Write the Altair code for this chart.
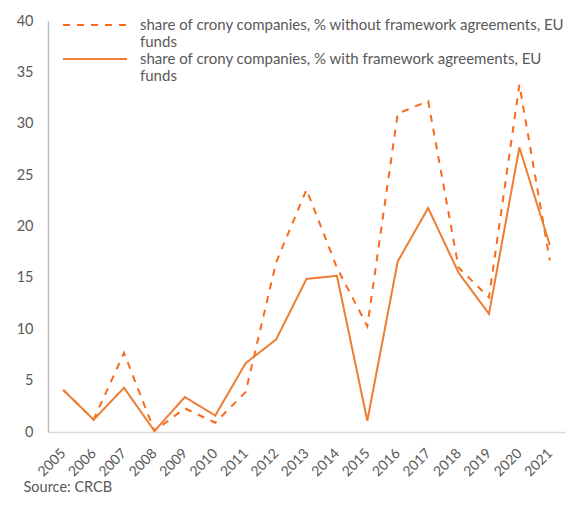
import altair as alt
import pandas as pd

years = [str(y) for y in range(2005, 2022)]
without_fa = [4.1, 1.2, 7.7, 0.1, 2.3, 0.9, 3.9, 16.5, 23.6, 16.0, 10.3, 31.0, 32.2, 16.0, 13.1, 33.8, 16.7]
with_fa = [4.1, 1.2, 4.3, 0.1, 3.4, 1.6, 6.7, 9.0, 14.9, 15.2, 1.1, 16.6, 21.8, 15.5, 11.5, 27.7, 18.2]
# "|" marks the line break of the legend labels
series_names = [
    "share of crony companies, % without framework agreements, EU|funds",
    "share of crony companies, % with framework agreements, EU|funds",
]
colors = ["#F96A1B", "#ED7D31"]
y_ticks = [0, 5, 10, 15, 20, 25, 30, 35, 40]

rows = []
for name, vals in zip(series_names, [without_fa, with_fa]):
    for yr, v in zip(years, vals):
        rows.append({"year": yr, "series": name, "value": v})
df = pd.DataFrame(rows)

FONT = "Lato"
GREY = "#595959"

leg = alt.Legend(
    title=None,
    orient="none",
    legendX=38,
    legendY=-5,
    symbolType="M-4,0H4",
    symbolSize=256,
    symbolStrokeWidth=2,
    labelLimit=600,
    labelFont=FONT,
    labelFontSize=15,
    labelColor=GREY,
    labelOffset=36,
    labelExpr="split(datum.label, '|')",
    rowPadding=0,
    padding=0,
)

lines = alt.Chart(df).mark_line(strokeWidth=2).encode(
    x=alt.X(
        "year:O",
        sort=years,
        axis=alt.Axis(
            title="Source: CRCB",
            titleAnchor="start",
            titleAlign="left",
            titleBaseline="middle",
            titleX=-25,
            titleY=55,
            titleFont=FONT,
            titleFontSize=14.5,
            titleFontWeight="normal",
            titleColor=GREY,
            labelAngle=-45,
            labelAlign="right",
            labelBaseline="middle",
            labelPadding=19,
            ticks=False,
            domainColor="#d9d9d9",
            domainWidth=1.5,
            labelFont=FONT,
            labelFontSize=14,
            labelColor=GREY,
        ),
    ),
    y=alt.Y(
        "value:Q",
        title=None,
        scale=alt.Scale(domain=[0, 40], nice=False),
        axis=alt.Axis(
            values=y_ticks,
            grid=False,
            ticks=False,
            domainColor="#bfbfbf",
            domainWidth=1.5,
            labelPadding=15,
            labelFont=FONT,
            labelFontSize=14.5,
            labelColor=GREY,
        ),
    ),
    color=alt.Color("series:N", scale=alt.Scale(domain=series_names, range=colors), legend=leg),
    strokeDash=alt.StrokeDash(
        "series:N",
        scale=alt.Scale(domain=series_names, range=[[7, 7], [1, 0]]),
        legend=leg,
    ),
    order=alt.Order("series:N"),
)

frame = alt.Chart(pd.DataFrame({"a": [0]})).mark_rect(
    fillOpacity=0, stroke="#d9d9d9", strokeWidth=1.5
).encode(x=alt.value(-42), y=alt.value(-19), x2=alt.value(560), y2=alt.value(520))

chart = alt.layer(frame, lines).properties(
    width=517,
    height=411,
    autosize=alt.AutoSizeParams(type="none"),
    padding={"left": 40, "top": 13, "right": 4, "bottom": 70},
).configure_view(stroke=None)

chart.save("out.html", embed_options={"renderer": "svg", "actions": False})
